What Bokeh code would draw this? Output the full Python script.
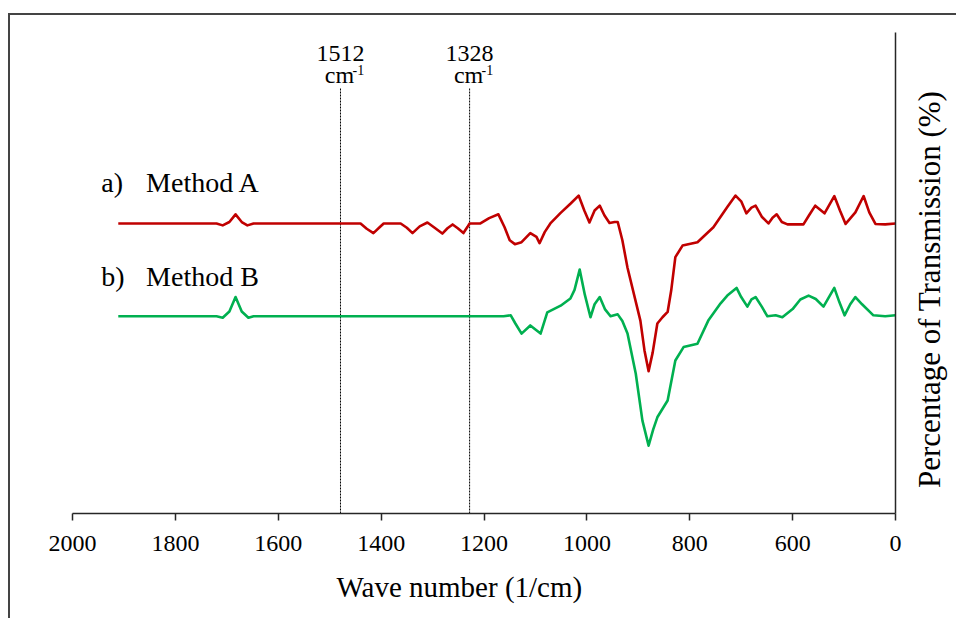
import math
from bokeh.plotting import figure
from bokeh.layouts import row
from bokeh.models import Range1d, FixedTicker, Label, Title
from bokeh.embed import file_html
from bokeh.resources import INLINE

# ---- data (wave number in cm^-1, transmission in arbitrary %) ----
wn_a = [1911, 1720, 1708, 1695, 1683, 1671, 1660, 1648, 1450, 1440, 1428, 1415,
        1403, 1395, 1362, 1350, 1339, 1325, 1310, 1296, 1281, 1271, 1261, 1251,
        1240, 1232, 1228, 1207, 1190, 1172, 1160, 1150, 1140, 1127, 1110, 1098,
        1092, 1082, 1071, 1051, 1032, 1016, 1005, 995, 985, 975, 966, 956, 946,
        940, 931, 921, 896, 888, 880, 872, 863, 853, 843, 836, 828, 814, 785,
        754, 727, 711, 700, 690, 680, 672, 660, 647, 639, 631, 621, 610, 579,
        568, 556, 538, 519, 508, 497, 478, 462, 451, 439, 420, 400]
trans_a = [60.3, 60.3, 59.9, 60.6, 62.2, 60.6, 59.9, 60.3, 60.3, 60.3, 59.2, 58.3,
           59.5, 60.3, 60.3, 59.4, 58.3, 59.7, 60.5, 59.4, 58.2, 59.3, 60.1, 59.3,
           58.3, 59.6, 60.3, 60.3, 61.4, 62.2, 59.5, 56.8, 56.0, 56.4, 58.3, 57.5,
           56.2, 58.5, 60.3, 62.5, 64.4, 66.1, 63.0, 60.5, 63.0, 64.0, 62.0, 60.4, 60.6,
           60.6, 56.8, 51.1, 40.1, 33.9, 29.6, 33.5, 39.5, 40.8, 41.9, 46.4, 53.3, 55.7, 56.4,
           59.5, 63.7, 66.1, 64.9, 62.4, 63.6, 64.0, 61.7, 60.3, 61.5, 62.2, 60.6, 60.1, 60.1,
           62.0, 64.0, 62.4, 66.0, 63.0, 60.2, 62.6, 66.0, 62.6, 60.2, 60.1, 60.3]

wn_b = [1911, 1720, 1708, 1695, 1683, 1671, 1658, 1648, 1162, 1148, 1139, 1127,
        1110, 1090, 1077, 1051, 1032, 1024, 1014, 1004, 993, 985, 975, 965, 954,
        940, 931, 921, 905, 892, 880, 871, 863, 843, 828, 812, 785, 764, 740,
        727, 709, 700, 688, 680, 672, 660, 649, 633, 620, 600, 585, 569, 555,
        540, 519, 509, 499, 488, 478, 465, 443, 420, 400]
trans_b = [41.0, 41.0, 40.7, 42.0, 45.0, 42.0, 40.7, 41.0, 41.0, 41.2, 39.5, 37.4,
           39.1, 37.4, 41.8, 43.2, 44.7, 46.5, 50.7, 45.5, 40.8, 43.5, 45.0, 42.5, 41.0,
           41.4, 40.0, 37.4, 29.1, 19.3, 14.1, 17.5, 20.0, 23.5, 31.8, 34.6, 35.3, 40.1, 43.7,
           45.3, 46.9, 45.0, 43.0, 44.5, 45.0, 43.0, 41.0, 41.2, 40.8, 42.5, 44.5, 45.3, 44.6,
           43.0, 46.9, 43.9, 41.2, 43.5, 45.0, 43.5, 41.2, 41.0, 41.2]

x_ticks = [2000, 1800, 1600, 1400, 1200, 1000, 800, 600, 400]
x_tick_labels = {400: "0"}

peak_pos = [1479, 1228]
peak_labels = ["1512", "1328"]
peak_top = 88.4

series_names = ["Method A", "Method B"]
series_tags = ["a)", "b)"]
series_colors = ["#C00000", "#00B050"]

x_title = "Wave number (1/cm)"
y_title = "Percentage of Transmission (%)"

FONT = "Liberation Serif"
BORDER = "2px solid #444"

p = figure(width=895, height=605, output_backend="svg", toolbar_location=None,
           x_range=Range1d(2000, 400), y_range=Range1d(0, 100),
           y_axis_location="right",
           min_border_left=62, min_border_top=17, min_border_right=10,
           min_border_bottom=107)
p.margin = (13, 0, 0, 8)
p.styles = {"border-top": BORDER, "border-left": BORDER}

p.xgrid.visible = False
p.ygrid.visible = False
p.outline_line_color = None
p.background_fill_color = "white"
p.border_fill_color = "white"

# bottom axis
xa = p.xaxis[0]
xa.ticker = FixedTicker(ticks=x_ticks)
xa.major_label_overrides = x_tick_labels
xa.minor_tick_line_color = None
xa.major_tick_in = 0
xa.major_tick_out = 7
xa.axis_line_color = "#262626"
xa.axis_line_width = 1.5
xa.major_tick_line_color = "#262626"
xa.major_tick_line_width = 1.5
xa.major_label_text_font = FONT
xa.major_label_text_font_size = "24px"
xa.major_label_text_color = "black"
xa.major_label_standoff = 15

# x title (sits slightly left of the frame centre, as in the original)
p.add_layout(Title(text=x_title, align="left", offset=264, standoff=30,
                   text_font=FONT, text_font_size="29px", text_font_style="normal",
                   text_color="black"), "below")

# right axis (line only)
ya = p.yaxis[0]
ya.ticker = FixedTicker(ticks=[])
ya.minor_tick_line_color = None
ya.major_tick_line_color = None
ya.major_tick_out = 0
ya.major_tick_in = 0
ya.major_label_standoff = 0
ya.axis_line_color = "#262626"
ya.axis_line_width = 1.5

# reference lines
p.segment(x0=peak_pos, y0=[0] * len(peak_pos), x1=peak_pos, y1=[peak_top] * len(peak_pos),
          line_color="black", line_width=1, line_dash="2 1")
for xp, lab in zip(peak_pos, peak_labels):
    p.add_layout(Label(x=xp, y=95.6, text=lab, text_align="center", text_baseline="alphabetic",
                       text_font=FONT, text_font_size="24px", text_color="black"))
    p.add_layout(Label(x=xp, y=91.1, text="cm", text_align="center", text_baseline="alphabetic",
                       x_offset=-1, text_font=FONT, text_font_size="24px", text_color="black"))
    p.add_layout(Label(x=xp, y=92.3, text="-1", text_align="left", text_baseline="alphabetic",
                       x_offset=12, text_font=FONT, text_font_size="14px", text_color="black"))

# spectra
p.line(wn_a, trans_a, line_color=series_colors[0], line_width=2.6, line_join="round")
p.line(wn_b, trans_b, line_color=series_colors[1], line_width=2.6, line_join="round")

# series labels
label_y = [68.8, 49.2]
for tag, name, yv in zip(series_tags, series_names, label_y):
    p.add_layout(Label(x=1944, y=yv, text=tag, text_align="left", text_baseline="alphabetic",
                       text_font=FONT, text_font_size="28px", text_color="black"))
    p.add_layout(Label(x=1857, y=yv, text=name, text_align="left", text_baseline="alphabetic",
                       text_font=FONT, text_font_size="28px", text_color="black"))

# side panel holding the vertical axis title (reads bottom to top)
q = figure(width=53, height=605, output_backend="svg", toolbar_location=None,
           x_range=Range1d(0, 53), y_range=Range1d(0, 605),
           min_border=0)
q.margin = (13, 0, 0, 0)
q.styles = {"border-top": BORDER}
q.xaxis.visible = False
q.yaxis.visible = False
q.xgrid.visible = False
q.ygrid.visible = False
q.outline_line_color = None
q.border_fill_color = "white"
q.add_layout(Label(x=26, y=282, text=y_title, angle=math.pi / 2,
                   text_align="center", text_baseline="middle",
                   text_font=FONT, text_font_size="31px", text_color="black"))

layout = row(p, q, spacing=0)
open("out.html", "w").write(file_html(layout, INLINE))
